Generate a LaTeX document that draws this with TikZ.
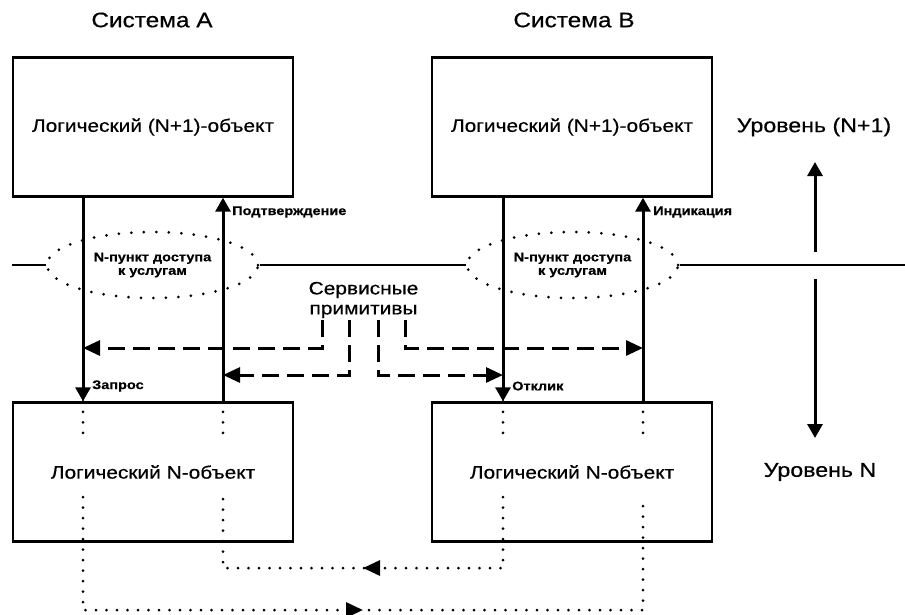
\documentclass[tikz,border=0pt]{standalone}
\usepackage{fontspec}
\setmainfont[FakeStretch=1.16,FakeBold=0.5]{Liberation Sans}
\usetikzlibrary{arrows.meta,decorations.markings,shapes.geometric}

\begin{document}
\begin{tikzpicture}[x=1pt,y=-1pt,
  objbox/.style={draw,line width=2.4pt,minimum width=280pt,minimum height=139pt,
    inner sep=0pt,font=\fontsize{18}{21}\selectfont},
  sap/.style={draw,ellipse,line width=3pt,line cap=round,
    dash pattern=on 0pt off 12.5pt,minimum width=211pt,minimum height=66pt,
    inner sep=0pt,align=center,font=\bfseries\fontsize{12.5}{13.5}\selectfont},
  systitle/.style={font=\fontsize{21}{24}\selectfont},
  leveltext/.style={font=\fontsize{20}{24}\selectfont},
  smalllbl/.style={font=\bfseries\fontsize{12.5}{14}\selectfont,inner sep=0pt,anchor=west},
  primtext/.style={font=\fontsize{18}{20}\selectfont,align=center,inner sep=0pt},
  solidarrow/.style={line width=3pt,-{Triangle[length=14pt,width=15pt]}},
  dasharrow/.style={line width=3pt,dash pattern=on 17pt off 8pt,
    -{Triangle[length=17pt,width=15pt]}},
  dotline/.style={line width=3pt,line cap=round,dash pattern=on 0pt off 10.5pt},
  midarrow/.style={postaction={decorate},decoration={markings,
    mark=at position 0.5 with {\arrow{Triangle[length=17pt,width=15pt]}}}},
  sapline/.style={line width=2.4pt}
]
\useasboundingbox (0,0) rectangle (905,614);

% x positions of the four primitive lines
\coordinate (aL) at (83,0);
\coordinate (aR) at (223,0);
\coordinate (bL) at (503,0);
\coordinate (bR) at (643,0);

% system titles
\node[systitle] (sysA) at (152,20) {Система А};
\node[systitle] (sysB) at (574,20) {Система В};

% entities of both layers
\node[objbox] (aTop) at (153,127) {Логический (N+1)-объект};
\node[objbox] (bTop) at (572,127) {Логический (N+1)-объект};
\node[objbox] (aBot) at (153,472) {Логический N-объект};
\node[objbox] (bBot) at (572,472) {Логический N-объект};

% service access points and the layer boundary
\node[sap] (aSAP) at (152.5,265) {N-пункт доступа\\к услугам};
\node[sap] (bSAP) at (572.5,265) {N-пункт доступа\\к услугам};
\coordinate (edgeL) at (12,265);
\coordinate (edgeR) at (905,265);
\draw[sapline] (edgeL) -- (aSAP.west);
\draw[sapline] (aSAP.east) -- (bSAP.west);
\draw[sapline] (bSAP.east) -- (edgeR);

% primitives between the layers
\draw[solidarrow] (aTop.south -| aL) -- (aBot.north -| aL);
\draw[solidarrow] (aBot.north -| aR) -- (aTop.south -| aR);
\draw[solidarrow] (bTop.south -| bL) -- (bBot.north -| bL);
\draw[solidarrow] (bBot.north -| bR) -- (bTop.south -| bR);

\node[smalllbl] (lblConf) at (232,212) {Подтверждение};
\node[smalllbl] (lblInd)  at (653,212) {Индикация};
\node[smalllbl] (lblReq)  at (92,386) {Запрос};
\node[smalllbl] (lblResp) at (512,386) {Отклик};

% service primitives callout
\node[primtext] (prim) at (363.5,300) {Сервисные\\примитивы};
\coordinate (t1) at (322,320);
\coordinate (t2) at (349,320);
\coordinate (t3) at (378,320);
\coordinate (t4) at (405,320);
\coordinate (rowHi) at (0,348);
\coordinate (rowLo) at (0,375);
\draw[dasharrow] (t1) |- (rowHi -| aL);
\draw[dasharrow] (t2) |- (rowLo -| aR);
\draw[dasharrow] (t3) |- (rowLo -| bL);
\draw[dasharrow] (t4) |- (rowHi -| bR);

% dotted continuation through the N-entities
\foreach \p in {aL,aR}{
  \draw[dotline] (aBot.north -| \p) -- ++(0,37);
}
\foreach \p in {bL,bR}{
  \draw[dotline] (bBot.north -| \p) -- ++(0,37);
}
\coordinate (aLlow) at (83,497);
\coordinate (aRlow) at (223,497);
\coordinate (bLlow) at (503,497);
\coordinate (bRlow) at (643,497);
\coordinate (routeHi) at (363,568);
\coordinate (routeLo) at (363,610);
\draw[dotline,midarrow] (bLlow) |- (routeHi) -| (aRlow);
\draw[dotline,midarrow] (aLlow) |- (routeLo) -| (bRlow);

% layer indicator
\node[leveltext] (lvlUp) at (814,127) {Уровень (N+1)};
\node[leveltext] (lvlDn) at (820,472) {Уровень N};
\coordinate (upBase) at (815,252);
\coordinate (upTip) at (815,162);
\coordinate (dnBase) at (815,279);
\coordinate (dnTip) at (815,438);
\draw[solidarrow] (upBase) -- (upTip);
\draw[solidarrow] (dnBase) -- (dnTip);
\end{tikzpicture}
\end{document}
